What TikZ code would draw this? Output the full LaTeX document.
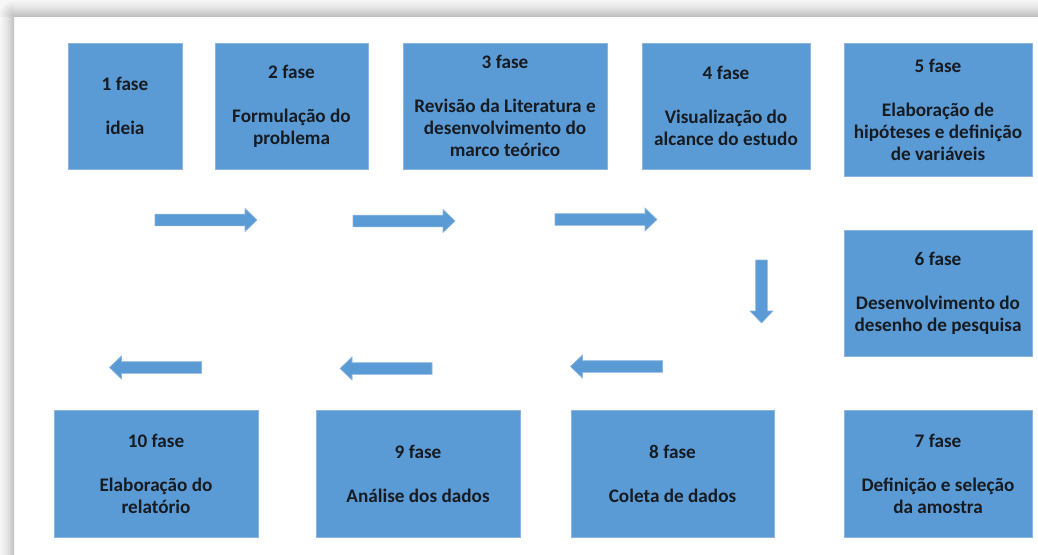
\documentclass[tikz,border=0pt]{standalone}
\usepackage{fontspec}
\setmainfont{Carlito}
\definecolor{boxblue}{HTML}{5B9BD5}
\definecolor{boxedge}{HTML}{8CB6E0}
\definecolor{txt}{HTML}{161B22}
\tikzset{
  x=1pt, y=-1pt,
  phase/.style={rectangle, fill=boxblue, draw=boxedge, line width=0.8pt,
    inner sep=0pt, align=center, text=txt,
    font=\fontsize{19.2}{22}\selectfont\bfseries},
  arrowfill/.style={fill=boxblue, draw=boxedge, line width=0.6pt},
  pics/blockarrow/.style={code={
    \path[arrowfill] (0,-5.8) -- (#1-12,-5.8) -- (#1-12,-11.5) -- (#1,0)
      -- (#1-12,11.5) -- (#1-12,5.8) -- (0,5.8) -- cycle;}}
}
\begin{document}
\begin{tikzpicture}
\useasboundingbox (0,0) rectangle (1038,554);
% page and frame shadow (top and left bands only)
\fill[white] (0,0) rectangle (1038,554);
\shade[top color=gray!6, bottom color=gray!50, middle color=gray!22] (14,0) rectangle (1038,16);
\shade[left color=gray!6, right color=gray!50, middle color=gray!22] (0,16) rectangle (14,554);
\begin{scope}
  \clip (0,0) rectangle (14,16);
  \fill[gray!6] (0,0) rectangle (14,16);
  \shade[inner color=gray!50, outer color=gray!6] (14,16) circle (16);
\end{scope}
% boxes
\node[phase, minimum width=114, minimum height=126] (b1) at (125,106) {1 fase\\[22pt]ideia};
\node[phase, minimum width=153, minimum height=126] (b2) at (291.5,106) {2 fase\\[22pt]Formulação do\\problema};
\node[phase, minimum width=204, minimum height=126] (b3) at (505,106) {3 fase\\[22pt]Revisão da Literatura e\\desenvolvimento do\\marco teórico};
\node[phase, minimum width=168, minimum height=126] (b4) at (726,106) {4 fase\\[22pt]Visualização do\\alcance do estudo};
\node[phase, minimum width=188, minimum height=133] (b5) at (938,109.5) {5 fase\\[22pt]Elaboração de\\hipóteses e definição\\de variáveis};
\node[phase, minimum width=188, minimum height=126] (b6) at (938,293) {6 fase\\[22pt]Desenvolvimento do\\desenho de pesquisa};
\node[phase, minimum width=188, minimum height=127] (b7) at (938,473.5) {7 fase\\[22pt]Definição e seleção\\da amostra};
\node[phase, minimum width=203, minimum height=127] (b8) at (672.5,473.5) {8 fase\\[22pt]Coleta de dados};
\node[phase, minimum width=204, minimum height=127] (b9) at (418,473.5) {9 fase\\[22pt]Análise dos dados};
\node[phase, minimum width=204, minimum height=127] (b10) at (156,473.5) {10 fase\\[22pt]Elaboração do\\relatório};
% block arrows
\coordinate (a1) at (155,220);
\coordinate (a2) at (353,221);
\coordinate (a3) at (555,219.5);
\coordinate (a4) at (761.5,260);
\coordinate (a5) at (662.5,366.5);
\coordinate (a6) at (432,368.5);
\coordinate (a7) at (201.5,367.5);
\pic at (a1) {blockarrow=102};
\pic at (a2) {blockarrow=102};
\pic at (a3) {blockarrow=102};
\pic[rotate=-90] at (a4) {blockarrow=63};
\pic[rotate=180] at (a5) {blockarrow=92};
\pic[rotate=180] at (a6) {blockarrow=92};
\pic[rotate=180] at (a7) {blockarrow=92};
\end{tikzpicture}
\end{document}
